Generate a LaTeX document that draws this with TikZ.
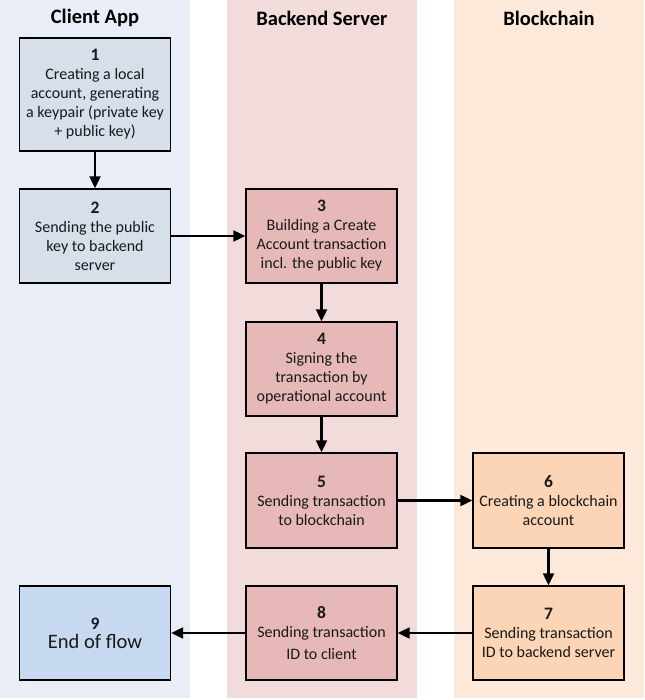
\documentclass[tikz,border=0pt]{standalone}
\usepackage{fontspec}
\setmainfont{Carlito}
\usetikzlibrary{arrows.meta}
\definecolor{laneA}{HTML}{E9EDF5}
\definecolor{laneB}{HTML}{F2DCDB}
\definecolor{laneC}{HTML}{FDE9D9}
\definecolor{boxA}{HTML}{D6DFEA}
\definecolor{boxAA}{HTML}{C6D9F0}
\definecolor{boxB}{HTML}{E6B9B8}
\definecolor{boxC}{HTML}{FBD5B5}
\newcommand{\stepnum}[1]{{\bfseries\fontsize{17.5}{19}\selectfont #1}}
\tikzset{
  stepbox/.style={draw=black, line width=1.4pt, rectangle, inner sep=0pt,
    minimum width=151pt, minimum height=94pt, align=center,
    font=\fontsize{16}{19}\selectfont, text=black!90},
  lanetitle/.style={font=\bfseries\fontsize{20.5}{24}\selectfont, text=black},
  flow/.style={line width=2.2pt, -{Triangle[length=12pt,width=11pt]}}
}
\begin{document}
\begin{tikzpicture}[x=1pt,y=-1pt]
\useasboundingbox (0,0) rectangle (644,700);
% lanes
\fill[laneA] (0,0) rectangle (190,698);
\fill[laneB] (227,0) rectangle (417,698);
\fill[laneC] (454,0) rectangle (644,698);
\node[lanetitle] (t1) at (95,18) {Client App};
\node[lanetitle] (t2) at (322,18) {Backend Server};
\node[lanetitle] (t3) at (549,18) {Blockchain};
% boxes
\node[stepbox, fill=boxA, minimum height=113pt] (b1) at (95,94.5)
  {\stepnum{1}\\Creating a local\\account, generating\\a keypair (private key\\+ public key)};
\node[stepbox, fill=boxA] (b2) at (95,236)
  {\stepnum{2}\\Sending the public\\key to backend\\server};
\node[stepbox, fill=boxB] (b3) at (321.5,236)
  {\stepnum{3}\\Building a Create\\Account transaction\\incl. the public key};
\node[stepbox, fill=boxB] (b4) at (321.5,369)
  {\stepnum{4}\\Signing the\\transaction by\\operational account};
\node[stepbox, fill=boxB, minimum height=95pt] (b5) at (321.5,500.5)
  {\stepnum{5}\\Sending transaction\\to blockchain};
\node[stepbox, fill=boxC, minimum height=95pt] (b6) at (548.5,500.5)
  {\stepnum{6}\\Creating a blockchain\\account};
\node[stepbox, fill=boxC] (b7) at (548.5,633)
  {\stepnum{7}\\Sending transaction\\ID to backend server};
\node[stepbox, fill=boxB] (b8) at (321.5,633)
  {\stepnum{8}\\Sending transaction\\[3pt]ID to client};
\node[stepbox, fill=boxAA] (b9) at (95,633)
  {\stepnum{9}\\{\fontsize{20.5}{24}\selectfont End of flow}};
% arrows
\draw[flow] (b1) -- (b2);
\draw[flow] (b2) -- (b3);
\draw[flow] (b3) -- (b4);
\draw[flow] (b4) -- (b5);
\draw[flow] (b5) -- (b6);
\draw[flow] (b6) -- (b7);
\draw[flow] (b7) -- (b8);
\draw[flow] (b8) -- (b9);
\end{tikzpicture}
\end{document}
